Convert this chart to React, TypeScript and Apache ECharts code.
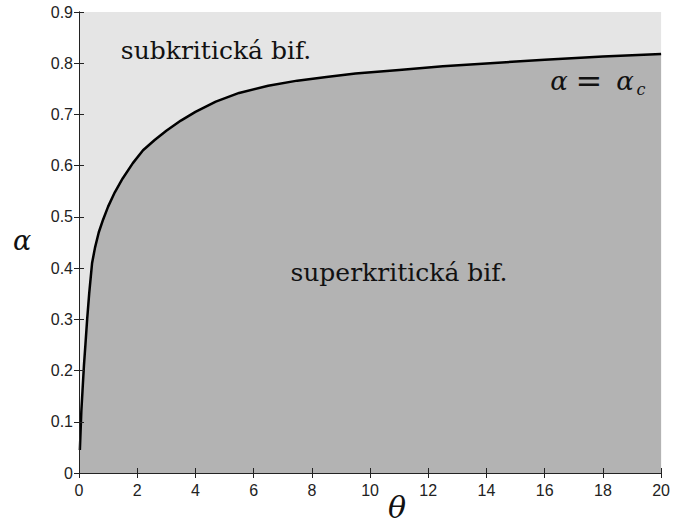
import React, { useEffect, useRef } from "react";
import * as echarts from "echarts";

const thetaValues = [0.03, 0.08, 0.12, 0.17, 0.22, 0.28, 0.35, 0.45, 0.55, 0.68, 0.83, 1.0, 1.23, 1.5, 1.85, 2.2, 2.6, 3.0, 3.5, 4.0, 4.7, 5.5, 6.5, 7.5, 8.5, 9.5, 11, 12.5, 14.4, 16, 18, 20];
const alphaValues = [0.045, 0.12, 0.16, 0.21, 0.25, 0.3, 0.35, 0.41, 0.44, 0.47, 0.495, 0.52, 0.548, 0.575, 0.605, 0.63, 0.65, 0.668, 0.688, 0.705, 0.725, 0.742, 0.756, 0.766, 0.773, 0.78, 0.787, 0.794, 0.801, 0.807, 0.813, 0.818];

const xMin = 0, xMax = 20, xStep = 2;
const yMin = 0, yMax = 0.9, yStep = 0.1;

const regionLabels = ["subkritická bif.", "superkritická bif."];
const xTitle = "θ";
const yTitle = "α";

const SANS = "Liberation Sans";
const SERIF = "DejaVu Serif";

function txt(x: number, y: number, text: string, size: number, italic = false) {
  return {
    type: "text",
    x,
    y,
    z: 100,
    style: {
      text,
      fontFamily: SERIF,
      fontSize: size,
      fontStyle: italic ? "italic" : "normal",
      fill: "#111",
      align: "center",
      verticalAlign: "middle",
    },
  };
}

export default function App() {
  const ref = useRef<HTMLDivElement>(null);
  useEffect(() => {
    if (!ref.current) return;
    const chart = echarts.init(ref.current, undefined, { renderer: "svg" });
    const axisCommon = {
      type: "value",
      z: 10,
      axisLine: { show: true, lineStyle: { color: "#222", width: 1 } },
      axisTick: { show: true, inside: true, length: 5, lineStyle: { color: "#222" } },
      splitLine: { show: false },
    };
    const data = thetaValues.map((t, i) => [t, alphaValues[i]]);
    chart.setOption({
      animation: false,
      backgroundColor: "#ffffff",
      grid: {
        left: 79,
        top: 12,
        right: 8,
        bottom: 50,
        show: true,
        backgroundColor: "#e5e5e5",
        borderWidth: 0,
      },
      xAxis: [
        {
          ...axisCommon,
          position: "bottom",
          min: xMin,
          max: xMax,
          interval: xStep,
          axisLabel: { show: true, color: "#222", fontSize: 16, fontFamily: SANS, margin: 9 },
        },
        {
          ...axisCommon,
          position: "top",
          min: xMin,
          max: xMax,
          interval: xStep,
          axisLabel: { show: false },
        },
      ],
      yAxis: [
        {
          ...axisCommon,
          position: "left",
          min: yMin,
          max: yMax,
          interval: yStep,
          axisLabel: { show: true, color: "#222", fontSize: 16, fontFamily: SANS, margin: 6 },
        },
        {
          ...axisCommon,
          position: "right",
          min: yMin,
          max: yMax,
          interval: yStep,
          axisLabel: { show: false },
        },
      ],
      series: [
        {
          type: "line",
          data,
          xAxisIndex: 0,
          yAxisIndex: 0,
          showSymbol: false,
          smooth: false,
          lineStyle: { color: "#000", width: 2.5, join: "round" },
          areaStyle: { color: "#b3b3b3", opacity: 1, origin: "start" },
          z: 3,
        },
      ],
      graphic: [
        txt(216, 50, regionLabels[0], 25),
        txt(399, 272, regionLabels[1], 25),
        txt(559, 81, "α", 26, true),
        txt(589, 81, "=", 32),
        txt(625, 81, "α", 26, true),
        txt(641, 89, "c", 16, true),
        txt(397, 507, xTitle, 30, true),
        txt(22, 240, yTitle, 27, true),
      ],
    });
    return () => chart.dispose();
  }, []);
  return <div ref={ref} style={{ position: "fixed", left: 0, top: 0, width: 673, height: 523 }} />;
}
